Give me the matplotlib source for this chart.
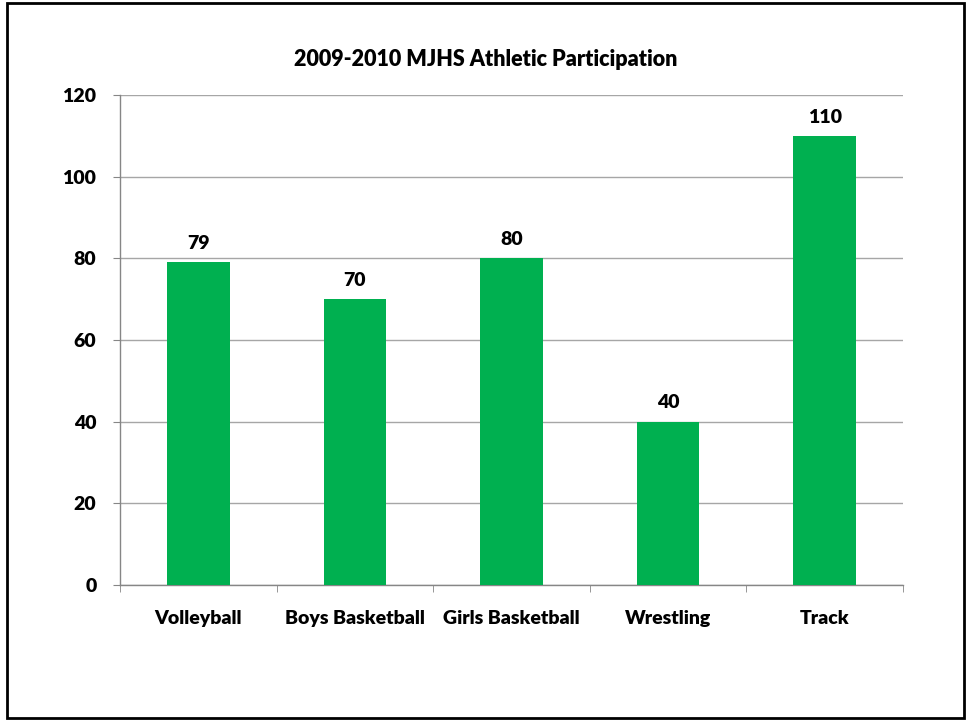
import matplotlib.pyplot as plt
from matplotlib.patches import Rectangle

plt.rcParams['font.family'] = ['Lato', 'DejaVu Sans']

sports = ['Volleyball', 'Boys Basketball', 'Girls Basketball', 'Wrestling', 'Track']
participants = [79, 70, 80, 40, 110]
y_ticks = [0, 20, 40, 60, 80, 100, 120]

fig = plt.figure(figsize=(9.66, 7.21), dpi=100)
ax = fig.add_axes([120 / 966, 1 - 585 / 721, 783 / 966, 490 / 721])

x = range(len(sports))
bars = ax.bar(x, participants, width=0.4, color='#00B050', zorder=3)

# rotulos de dados
for i, valor in enumerate(participants):
    ax.text(i, valor + 2.5, f'{valor}', ha='center', va='bottom',
            fontsize=14, fontweight='heavy')

ax.set_xlim(-0.5, len(sports) - 0.5)
ax.set_ylim(0, 120)
ax.set_yticks(y_ticks)
ax.set_yticklabels([str(v) for v in y_ticks], fontsize=14, fontweight='heavy')
ax.set_xticks(list(x))
ax.set_xticklabels(sports, fontsize=14, fontweight='heavy')
ax.set_xticks([i - 0.5 for i in range(len(sports) + 1)], minor=True)

ax.tick_params(axis='x', which='major', length=0, pad=18)
ax.tick_params(axis='x', which='minor', length=5, color='#868686', direction='out')
ax.tick_params(axis='y', length=5, color='#868686', direction='out', pad=12)

ax.grid(axis='y', color='#A6A6A6', linewidth=1, zorder=0)
for s in ['top', 'right']:
    ax.spines[s].set_visible(False)
for s in ['left', 'bottom']:
    ax.spines[s].set_color('#868686')
    ax.spines[s].set_linewidth(1)

fig.text(486 / 966, 1 - 60 / 721, '2009-2010 MJHS Athletic Participation',
         ha='center', va='center', fontsize=15.5, fontweight='heavy')

# moldura
fig.patches.append(Rectangle((7 / 966, 3 / 721), 957 / 966, 715 / 721,
                             transform=fig.transFigure, fill=False,
                             edgecolor='black', linewidth=2))

fig.savefig('out.png', dpi=100)
